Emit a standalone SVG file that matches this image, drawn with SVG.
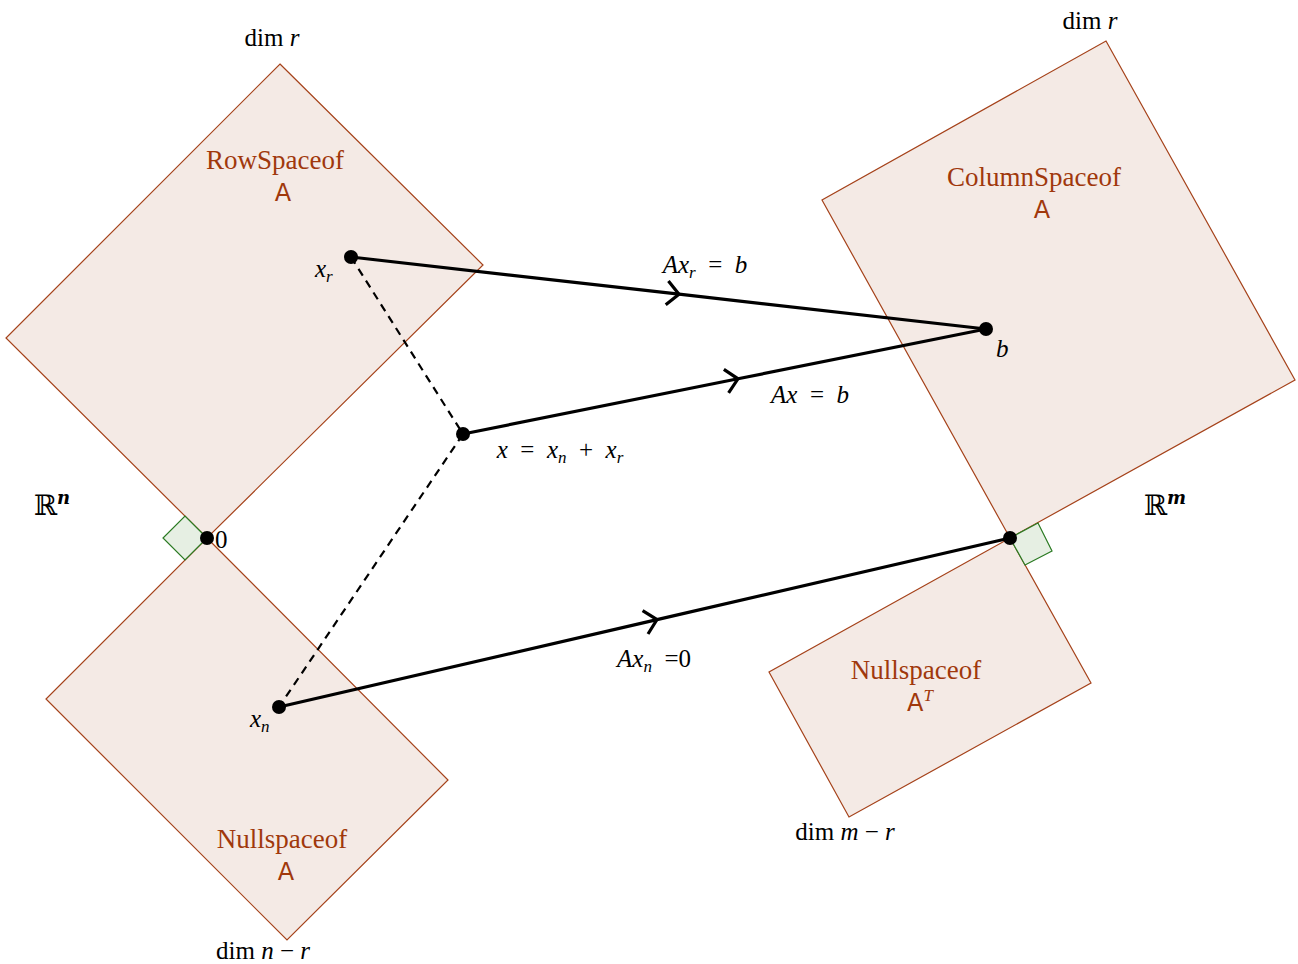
<svg xmlns="http://www.w3.org/2000/svg" width="1298" height="964" viewBox="0 0 1298 964">
<style>
.sp{fill:#f4eae5;stroke:#a5421a;stroke-width:1.2}
.ra{fill:#e6efe3;stroke:#2a7a22;stroke-width:1.2}
.t{font-family:"Liberation Serif","DejaVu Serif",serif;font-size:25px;fill:#000}
.m{text-anchor:middle}
.lbl{font-family:"Liberation Serif","DejaVu Serif",serif;font-size:27px;fill:#a0380c;text-anchor:middle}
.A{font-family:"DejaVu Sans","Liberation Sans",sans-serif;font-size:24px;fill:#a0380c;text-anchor:middle}
.i{font-style:italic}
.sub{font-size:17px;font-style:italic}
.ln{fill:none;stroke:#000;stroke-width:3.2}
.da{fill:none;stroke:#000;stroke-width:2.2;stroke-dasharray:8 6}
.dot{fill:#000}
</style>
<defs>
<marker id="chev" markerUnits="userSpaceOnUse" viewBox="-14 -14 16 28" markerWidth="16" markerHeight="28" refX="0" refY="0" orient="auto" overflow="visible">
<path d="M-12,-12 L0,0 L-12,12" fill="none" stroke="#000" stroke-width="3.2" stroke-linejoin="miter"/>
</marker>
</defs>
<g id="rowspace">
<polygon class="sp" points="280,64 483,265 207,538 6,338"/>
<text class="lbl" x="275" y="169">RowSpaceof</text>
<text class="A" x="283" y="201">A</text>
</g>
<g id="nullspace">
<polygon class="sp" points="207,538 448,780 287,940 46,699"/>
<text class="lbl" x="282" y="848">Nullspaceof</text>
<text class="A" x="286" y="880">A</text>
</g>
<g id="colspace">
<polygon class="sp" points="1106,41 1295,380 1010,538 822,200"/>
<text class="lbl" x="1034" y="186">ColumnSpaceof</text>
<text class="A" x="1042" y="218">A</text>
</g>
<g id="leftnull">
<polygon class="sp" points="1010,538 1091,683 849,817 769,672"/>
<text class="lbl" x="916" y="679">Nullspaceof</text>
<text class="A" x="920" y="711">A<tspan font-family="Liberation Serif,serif" font-style="italic" font-size="17" dy="-10">T</tspan></text>
</g>
<g id="rightangles">
<polygon class="ra" points="207,538 185,516 163,538 185,560"/>
<polygon class="ra" points="1010,538 1038,523 1052,551 1025,565"/>
</g>
<g id="connectors">
<path class="da" d="M351,257 L463,434 L279,707"/>
<path class="ln" d="M351,257 L679,294.2 L986,329" marker-mid="url(#chev)"/>
<path class="ln" d="M463,434 L738,378.8 L986,329" marker-mid="url(#chev)"/>
<path class="ln" d="M279,707 L657,619.6 L1010,538" marker-mid="url(#chev)"/>
</g>
<g id="points">
<circle class="dot" cx="351" cy="257" r="7"/>
<circle class="dot" cx="463" cy="434" r="7"/>
<circle class="dot" cx="279" cy="707" r="7"/>
<circle class="dot" cx="986" cy="329" r="7"/>
<circle class="dot" cx="207" cy="538" r="7"/>
<circle class="dot" cx="1010" cy="538" r="7"/>
</g>
<g id="labels">
<text class="t m" x="272" y="46">dim <tspan class="i">r</tspan></text>
<text class="t m" x="1090" y="29">dim <tspan class="i">r</tspan></text>
<text class="t m" x="263" y="959">dim <tspan class="i">n</tspan> − <tspan class="i">r</tspan></text>
<text class="t m" x="845" y="840">dim <tspan class="i">m</tspan> − <tspan class="i">r</tspan></text>
<text class="t" x="315" y="277"><tspan class="i">x</tspan><tspan class="sub" dy="5">r</tspan></text>
<text class="t" x="250" y="727"><tspan class="i">x</tspan><tspan class="sub" dy="5">n</tspan></text>
<text class="t" x="215" y="548">0</text>
<text class="t i" x="996" y="357">b</text>
<text class="t m" x="705" y="273" xml:space="preserve"><tspan class="i">Ax</tspan><tspan class="sub" dy="5">r</tspan><tspan dy="-5">  =  </tspan><tspan class="i">b</tspan></text>
<text class="t m" x="810" y="403" xml:space="preserve"><tspan class="i">Ax</tspan>  =  <tspan class="i">b</tspan></text>
<text class="t m" x="560" y="458" xml:space="preserve"><tspan class="i">x</tspan>  =  <tspan class="i">x</tspan><tspan class="sub" dy="5">n</tspan><tspan dy="-5">  +  </tspan><tspan class="i">x</tspan><tspan class="sub" dy="5">r</tspan></text>
<text class="t m" x="654" y="667" xml:space="preserve"><tspan class="i">Ax</tspan><tspan class="sub" dy="5">n</tspan><tspan dy="-5">  =0</tspan></text>
<text x="52" y="515" font-family="DejaVu Serif,serif" font-size="28" text-anchor="middle">ℝ<tspan font-size="18" font-weight="bold" font-style="italic" dy="-11">n</tspan></text>
<text x="1165" y="515" font-family="DejaVu Serif,serif" font-size="28" text-anchor="middle">ℝ<tspan font-size="18" font-weight="bold" font-style="italic" dy="-11">m</tspan></text>
</g>
</svg>
